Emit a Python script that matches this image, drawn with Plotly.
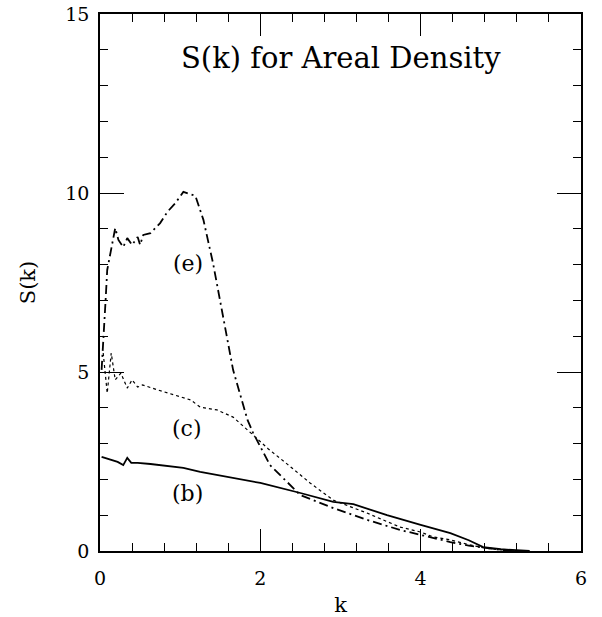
import plotly.graph_objects as go

# Curve (b): solid
kb = [0.02, 0.06, 0.13, 0.22, 0.29, 0.34, 0.39, 0.47, 0.63, 0.92, 1.04, 1.25, 1.6, 2.0, 2.5, 2.91, 3.16, 3.58, 4.0, 4.37, 4.6, 4.78, 5.0, 5.12, 5.36]
sb = [2.63, 2.60, 2.54, 2.49, 2.40, 2.60, 2.46, 2.46, 2.43, 2.35, 2.32, 2.21, 2.06, 1.90, 1.62, 1.37, 1.31, 1.00, 0.73, 0.50, 0.30, 0.11, 0.05, 0.03, 0.0]

# Curve (c): dotted
kc = [0.04, 0.09, 0.14, 0.19, 0.26, 0.34, 0.40, 0.47, 0.53, 0.72, 1.13, 1.25, 1.46, 1.66, 1.91, 2.10, 2.34, 2.62, 2.91, 3.33, 3.74, 4.0, 4.16, 4.37, 4.6, 4.8, 5.0, 5.2]
sc = [5.53, 4.41, 5.53, 4.78, 4.97, 4.55, 4.78, 4.58, 4.64, 4.50, 4.22, 4.02, 3.94, 3.74, 3.24, 2.85, 2.42, 1.90, 1.42, 1.06, 0.67, 0.53, 0.39, 0.31, 0.18, 0.08, 0.03, 0.0]

# Curve (e): dash-dot
ke = [0.02, 0.044, 0.07, 0.09, 0.106, 0.13, 0.17, 0.19, 0.23, 0.29, 0.34, 0.40, 0.47, 0.50, 0.54, 0.63, 0.75, 0.84, 0.94, 1.04, 1.19, 1.29, 1.41, 1.56, 1.66, 1.84, 1.91, 2.12, 2.50, 2.91, 3.33, 3.74, 4.16, 4.37, 4.6, 4.8, 5.0, 5.2]
se = [5.06, 6.17, 7.01, 7.85, 8.04, 8.32, 8.88, 9.02, 8.69, 8.49, 8.74, 8.55, 8.77, 8.55, 8.83, 8.88, 9.16, 9.47, 9.72, 10.03, 9.92, 9.25, 8.04, 6.26, 5.06, 3.66, 3.30, 2.40, 1.56, 1.20, 0.87, 0.59, 0.36, 0.25, 0.15, 0.08, 0.03, 0.0]

x_ticks = [0, 2, 4, 6]
y_ticks = [0, 5, 10, 15]

FONT = "DejaVu Serif"

fig = go.Figure()
fig.add_trace(go.Scatter(x=kb, y=sb, mode="lines", line=dict(color="black", width=1.8)))
fig.add_trace(go.Scatter(x=kc, y=sc, mode="lines", line=dict(color="black", width=1.2, dash="dot")))
fig.add_trace(go.Scatter(x=ke, y=se, mode="lines", line=dict(color="black", width=1.8, dash="9px,4px,2px,4px")))

axis_common = dict(
    showgrid=False, zeroline=False, showline=True, linecolor="black", linewidth=1.6,
    mirror="allticks", ticks="inside", tickcolor="black", tickwidth=1.4,
    tickfont=dict(family=FONT, size=19, color="black"), automargin=False,
)

fig.update_xaxes(range=[0, 6], tickvals=x_ticks, ticklen=22, ticklabelstandoff=9,
                 minor=dict(dtick=0.4, ticklen=8, ticks="inside", tickcolor="black", tickwidth=1.4),
                 title=dict(text="k", font=dict(family=FONT, size=21, color="black"), standoff=13),
                 **axis_common)
fig.update_yaxes(range=[0, 15], tickvals=y_ticks, ticklen=24, ticklabelstandoff=5,
                 minor=dict(dtick=1, ticklen=8, ticks="inside", tickcolor="black", tickwidth=1.4),
                 title=dict(text="S(k)", font=dict(family=FONT, size=21, color="black"), standoff=24),
                 **axis_common)

fig.add_annotation(x=3.0, y=13.77, text="S(k) for Areal Density", showarrow=False,
                   font=dict(family=FONT, size=29, color="black"))
fig.add_annotation(x=1.10, y=8.02, text="(e)", showarrow=False, font=dict(family=FONT, size=22, color="black"))
fig.add_annotation(x=1.09, y=3.43, text="(c)", showarrow=False, font=dict(family=FONT, size=22, color="black"))
fig.add_annotation(x=1.09, y=1.62, text="(b)", showarrow=False, font=dict(family=FONT, size=22, color="black"))

fig.update_layout(
    width=602, height=617, showlegend=False,
    margin=dict(l=100, r=21, t=14, b=66),
    paper_bgcolor="white", plot_bgcolor="white",
    font=dict(family=FONT, color="black"),
)

fig.write_html("out.html")
